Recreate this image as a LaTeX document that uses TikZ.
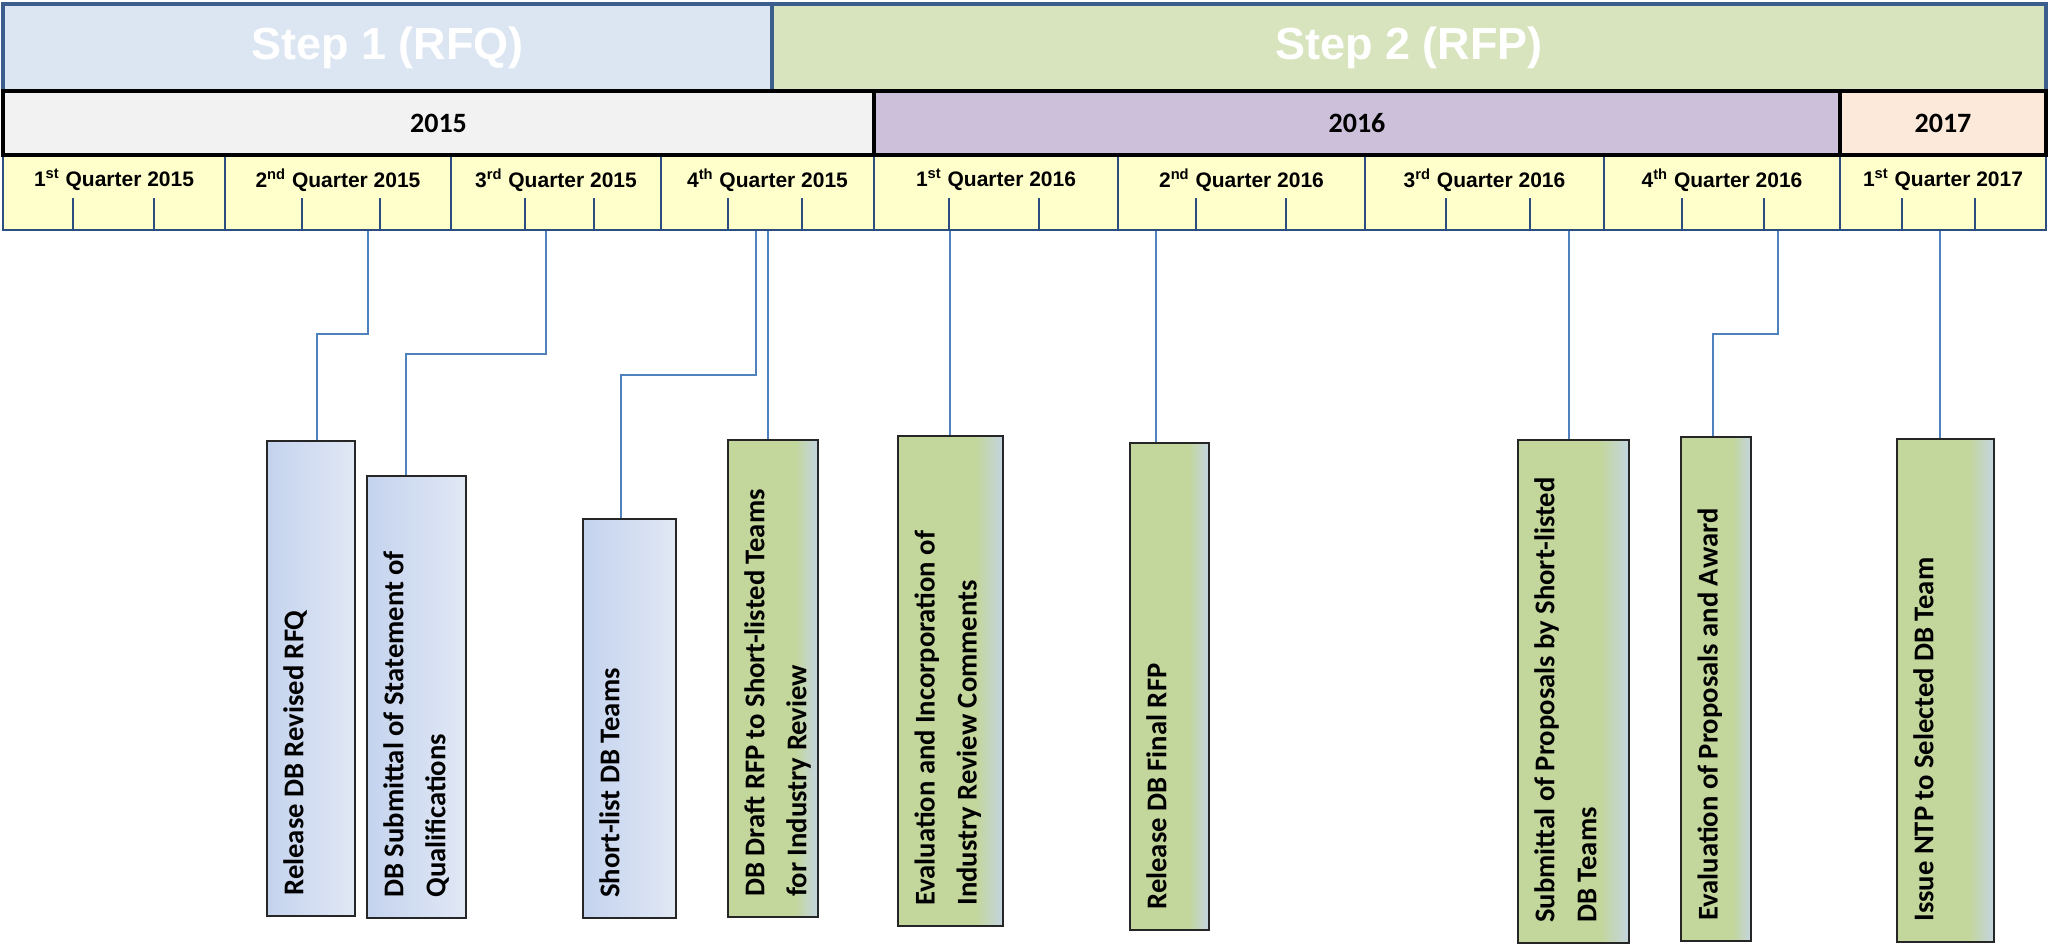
\documentclass[tikz,border=0pt]{standalone}
\usepackage{fontspec}
\setmainfont{Liberation Sans}
\newfontfamily\calibri{Carlito}
\usetikzlibrary{fit}

\definecolor{stepone}{HTML}{DCE6F2}
\definecolor{steptwo}{HTML}{D7E4BD}
\definecolor{stepline}{HTML}{3B5E8C}
\definecolor{yearA}{HTML}{F2F2F2}
\definecolor{yearB}{HTML}{CCC0DA}
\definecolor{yearC}{HTML}{FDE9D9}
\definecolor{qfill}{HTML}{FFFFCC}
\definecolor{qline}{HTML}{2C4D80}
\definecolor{linkblue}{HTML}{4F81BD}
\definecolor{rfqleft}{HTML}{C4D3EE}
\definecolor{rfqright}{HTML}{E1E8F5}
\definecolor{rfpgreen}{HTML}{C3D69B}
\definecolor{rfpgrey}{HTML}{C4D5E2}

\pgfdeclarehorizontalshading{rfpfade}{100bp}{color(0bp)=(rfpgreen); color(25bp)=(rfpgreen); color(62bp)=(rfpgreen); color(75bp)=(rfpgrey); color(100bp)=(rfpgrey)}

\begin{document}
\begin{tikzpicture}[x=0.5pt,y=-0.5pt,
    stepcell/.style={draw=stepline, line width=2.4pt, inner sep=0pt},
    steptext/.style={inner sep=0pt, text=white, font=\fontsize{22.5}{26}\selectfont\bfseries},
    yearcell/.style={draw=black, line width=2pt, inner sep=0pt},
    yeartext/.style={inner sep=0pt, font=\calibri\fontsize{14}{16}\selectfont\bfseries},
    qcell/.style={draw=qline, line width=1.2pt, fill=qfill, inner sep=0pt},
    qlabel/.style={inner sep=0pt, font=\fontsize{10.5}{12}\selectfont\bfseries},
    tick/.style={draw=qline, line width=1pt},
    rfqbox/.style={draw=black!85, line width=1pt, inner sep=0pt, left color=rfqleft, right color=rfqright},
    rfpbox/.style={draw=black!85, line width=1pt, inner sep=0pt, shading=rfpfade},
    boxtext/.style={rotate=90, anchor=north west, inner sep=0pt, align=left, font=\calibri\fontsize{14.3}{21}\selectfont\bfseries},
    link/.style={draw=linkblue, line width=0.8pt}]
    \useasboundingbox (0,0) rectangle (2049,948);

    % steps
    \node[stepcell, fill=stepone, fit={(3,4) (772,91)}] (step1) {};
    \node[stepcell, fill=steptwo, fit={(772,4) (2046,91)}] (step2) {};
    \node[steptext] (st1) at (step1.center) {Step 1 (RFQ)};
    \node[steptext] (st2) at (step2.center) {Step 2 (RFP)};

    % quarters
    \foreach \n/\l/\r/\q/\sup/\yr in {1/3/225/1/st/2015, 2/225/451/2/nd/2015, 3/451/661/3/rd/2015,
        4/661/874/4/th/2015, 5/874/1118/1/st/2016, 6/1118/1365/2/nd/2016,
        7/1365/1604/3/rd/2016, 8/1604/1840/4/th/2016, 9/1840/2046/1/st/2017} {
        \node[qcell, fit={(\l,155) (\r,230)}] (q\n) {};
        \node[qlabel] (ql\n) at ({(\l+\r)/2},180) {\q\textsuperscript{\sup} Quarter \yr};
    }
    \foreach \x in {73,154,302,380,525,594,728,802,949,1039,1196,1286,1446,1530,1682,1764,1902,1975}
        \draw[tick] (\x,198) -- (\x,230);

    % years
    \foreach \yr/\col/\l/\r in {2015/yearA/3/874, 2016/yearB/874/1840, 2017/yearC/1840/2046} {
        \node[yearcell, fill=\col, fit={(\l,91) (\r,155)}] (y\yr) {};
        \node[yeartext] (yt\yr) at (y\yr.center) {\yr};
    }

    % milestones
    \foreach \n/\boxstyle/\l/\t/\r/\b/\txt in {
        1/rfqbox/267/441/355/916/{Release DB Revised RFQ},
        2/rfqbox/367/476/466/918/{DB Submittal of Statement of\\Qualifications},
        3/rfqbox/583/519/676/918/{Short-list DB Teams},
        4/rfpbox/728/440/818/917/{DB Draft RFP to Short-listed Teams\\for Industry Review},
        5/rfpbox/898/436/1003/926/{Evaluation and Incorporation of\\Industry Review Comments},
        6/rfpbox/1130/443/1209/930/{Release DB Final RFP},
        7/rfpbox/1518/440/1629/943/{Submittal of Proposals by Short-listed\\DB Teams},
        8/rfpbox/1681/437/1751/941/{Evaluation of Proposals and Award},
        9/rfpbox/1897/439/1994/942/{Issue NTP to Selected DB Team}} {
        \node[\boxstyle, fit={(\l,\t) (\r,\b)}] (b\n) {};
        \node[boxtext] (bt\n) at ([shift={(17,-21)}]b\n.south west) {\txt};
    }

    % connectors
    \foreach \n/\x in {1/368,2/546,3/756,4/768,5/950,6/1156,7/1569,8/1778,9/1940}
        \coordinate (s\n) at (\x,231);
    \draw[link] (s1) |- (317,334) -- (b1.north -| 317,0);
    \draw[link] (s2) |- (406,354) -- (b2.north -| 406,0);
    \draw[link] (s3) |- (621,375) -- (b3.north -| 621,0);
    \draw[link] (s4) -- (s4 |- b4.north);
    \draw[link] (s5) -- (s5 |- b5.north);
    \draw[link] (s6) -- (s6 |- b6.north);
    \draw[link] (s7) -- (s7 |- b7.north);
    \draw[link] (s8) |- (1713,334) -- (b8.north -| 1713,0);
    \draw[link] (s9) -- (s9 |- b9.north);
\end{tikzpicture}
\end{document}
